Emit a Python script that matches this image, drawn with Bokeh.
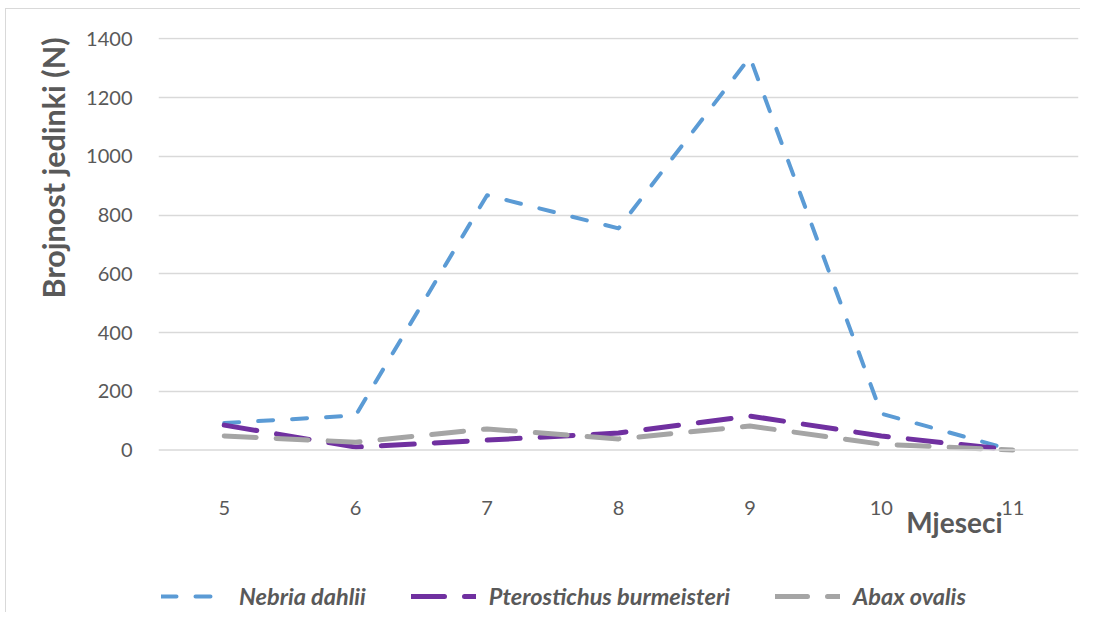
from bokeh.plotting import figure
from bokeh.layouts import column
from bokeh.models import Legend, LegendItem, Title, Range1d, FixedTicker, Span
from bokeh.embed import file_html
from bokeh.resources import INLINE

# ---- data ----
months = [5, 6, 7, 8, 9, 10, 11]
month_labels = ["5", "6", "7", "8", "9", "10", "11"]
nebria_dahlii = [92, 118, 868, 755, 1338, 124, 0]
pterostichus_burmeisteri = [85, 10, 34, 58, 116, 48, 0]
abax_ovalis = [48, 27, 72, 38, 82, 20, 0]
y_ticks = [0, 200, 400, 600, 800, 1000, 1200, 1400]

series_names = ["Nebria dahlii", "Pterostichus burmeisteri", "Abax ovalis"]
series_colors = ["#5b9bd5", "#7030a0", "#a5a5a5"]
series_widths = [4, 5, 5]
series_dashes = ["15 19", "33 20", "32 20"]
series_values = [nebria_dahlii, pterostichus_burmeisteri, abax_ovalis]

FONT = "Lato"
TXT = "#595959"

p = figure(width=1074, height=544, output_backend="svg", toolbar_location=None,
           x_range=Range1d(4.5, 11.5), y_range=Range1d(-15, 1405),
           min_border_left=152, min_border_right=2, min_border_top=28,
           min_border_bottom=99)
p.outline_line_color = None
p.background_fill_color = "white"
p.border_fill_color = "white"

# axes
p.xaxis.ticker = FixedTicker(ticks=months)
p.xaxis.major_label_overrides = {m: l for m, l in zip(months, month_labels)}
p.yaxis.ticker = FixedTicker(ticks=y_ticks)
for ax in (p.xaxis[0], p.yaxis[0]):
    ax.axis_line_color = None
    ax.major_tick_line_color = None
    ax.minor_tick_line_color = None
    ax.major_label_text_font = FONT
    ax.major_label_text_font_size = "20px"
    ax.major_label_text_color = TXT
p.xaxis.major_label_standoff = 40
p.yaxis.major_label_standoff = 20

p.xgrid.grid_line_color = None
p.ygrid.ticker = FixedTicker(ticks=y_ticks[1:])
p.ygrid.grid_line_color = "#d9d9d9"
p.ygrid.grid_line_width = 1.5

p.add_layout(Span(location=0, dimension="width", line_color="#d9d9d9", line_width=1.5))

# lines
for vals, c, w, d in zip(series_values, series_colors, series_widths, series_dashes):
    p.line(months, vals, line_color=c, line_width=w, line_dash=d,
           line_cap="round", line_join="round")

# axis titles
p.add_layout(Title(text="Brojnost jedinki (N)", align="right", offset=0, standoff=26,
                   text_font=FONT, text_font_style="bold", text_font_size="30.5px",
                   text_color=TXT), "left")
p.add_layout(Title(text="Mjeseci", align="right", offset=76, standoff=-30,
                   text_font=FONT, text_font_style="bold", text_font_size="28px",
                   text_color=TXT), "below")

# legend strip (its lines use the same series, kept outside the strip's visible range)
p2 = figure(width=1074, height=59, output_backend="svg", toolbar_location=None,
            x_axis_type=None, y_axis_type=None, min_border=0,
            x_range=Range1d(0, 1), y_range=Range1d(-1, 0))
p2.outline_line_color = None
p2.grid.visible = False
leg_renderers = []
for vals, c, w, d in zip(series_values, series_colors, series_widths, series_dashes):
    leg_renderers.append(p2.line(months, vals, line_color=c, line_width=w, line_dash=d,
                                 line_cap="round"))

legend = Legend(items=[LegendItem(label=n, renderers=[r]) for n, r in zip(series_names, leg_renderers)],
                orientation="horizontal", location=(3, 2))
legend.border_line_color = None
legend.background_fill_alpha = 0
legend.padding = 0
legend.margin = 0
legend.glyph_width = 65
legend.glyph_height = 26
legend.label_height = 26
legend.label_standoff = 13
legend.spacing = 45
legend.label_text_font = FONT
legend.label_text_font_style = "bold italic"
legend.label_text_font_size = "23.5px"
legend.label_text_color = TXT
p2.add_layout(legend, "center")

layout = column(p, p2, spacing=0, margin=(8, 0, 0, 5),
                styles={"border-left": "1.5px solid #d9d9d9", "border-top": "1.5px solid #d9d9d9"})

open("out.html", "w").write(file_html(layout, INLINE))
